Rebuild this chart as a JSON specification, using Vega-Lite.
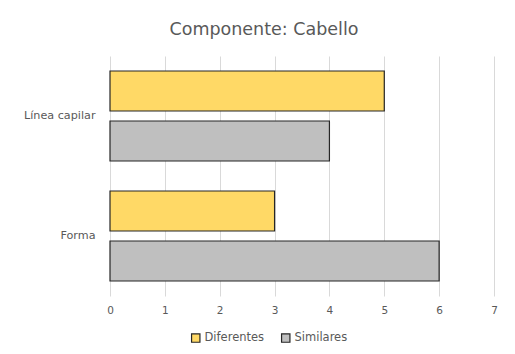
{
  "$schema": "https://vega.github.io/schema/vega-lite/v6.json",
  "width": 384,
  "height": 240,
  "autosize": "none",
  "padding": {"left": 110, "top": 56, "right": 21, "bottom": 58},
  "background": "white",
  "title": {
    "text": "Componente: Cabello",
    "font": "DejaVu Sans",
    "fontSize": 17.5,
    "fontWeight": "normal",
    "color": "#595959",
    "anchor": "middle",
    "dx": -38,
    "offset": 18
  },
  "data": {
    "values": [
      {"componente": "Línea capilar", "tipo": "Diferentes", "valor": 5},
      {"componente": "Línea capilar", "tipo": "Similares", "valor": 4},
      {"componente": "Forma", "tipo": "Diferentes", "valor": 3},
      {"componente": "Forma", "tipo": "Similares", "valor": 6}
    ]
  },
  "mark": {"type": "bar", "stroke": "#262626", "strokeWidth": 1.2},
  "encoding": {
    "y": {
      "field": "componente",
      "type": "nominal",
      "sort": ["Línea capilar", "Forma"],
      "scale": {"paddingInner": 0, "paddingOuter": 0},
      "axis": {
        "title": null,
        "domain": false,
        "ticks": false,
        "labelFont": "DejaVu Sans",
        "labelFontSize": 11.2,
        "labelColor": "#595959",
        "labelPadding": 15
      }
    },
    "yOffset": {
      "field": "tipo",
      "type": "nominal",
      "sort": ["Diferentes", "Similares"],
      "scale": {"paddingInner": 0.2, "paddingOuter": 0.3}
    },
    "x": {
      "field": "valor",
      "type": "quantitative",
      "scale": {"domain": [0, 7], "nice": false},
      "axis": {
        "title": null,
        "domain": false,
        "ticks": false,
        "values": [0, 1, 2, 3, 4, 5, 6, 7],
        "labelOverlap": false,
        "labelFlush": false,
        "grid": true,
        "gridColor": "#d9d9d9",
        "gridWidth": 1,
        "labelFont": "DejaVu Sans",
        "labelFontSize": 10.5,
        "labelColor": "#595959",
        "labelPadding": 9
      }
    },
    "color": {
      "field": "tipo",
      "type": "nominal",
      "sort": ["Diferentes", "Similares"],
      "scale": {"domain": ["Diferentes", "Similares"], "range": ["#FFD966", "#BFBFBF"]},
      "legend": {
        "title": null,
        "orient": "none",
        "direction": "horizontal",
        "legendX": 80,
        "legendY": 276,
        "symbolType": "square",
        "symbolSize": 70,
        "symbolStrokeColor": "#262626",
        "symbolStrokeWidth": 1.2,
        "symbolOpacity": 1,
        "labelFont": "DejaVu Sans",
        "labelFontSize": 11.5,
        "labelColor": "#595959",
        "labelOffset": 3,
        "columnPadding": 14
      }
    }
  },
  "config": {"view": {"stroke": null}}
}
